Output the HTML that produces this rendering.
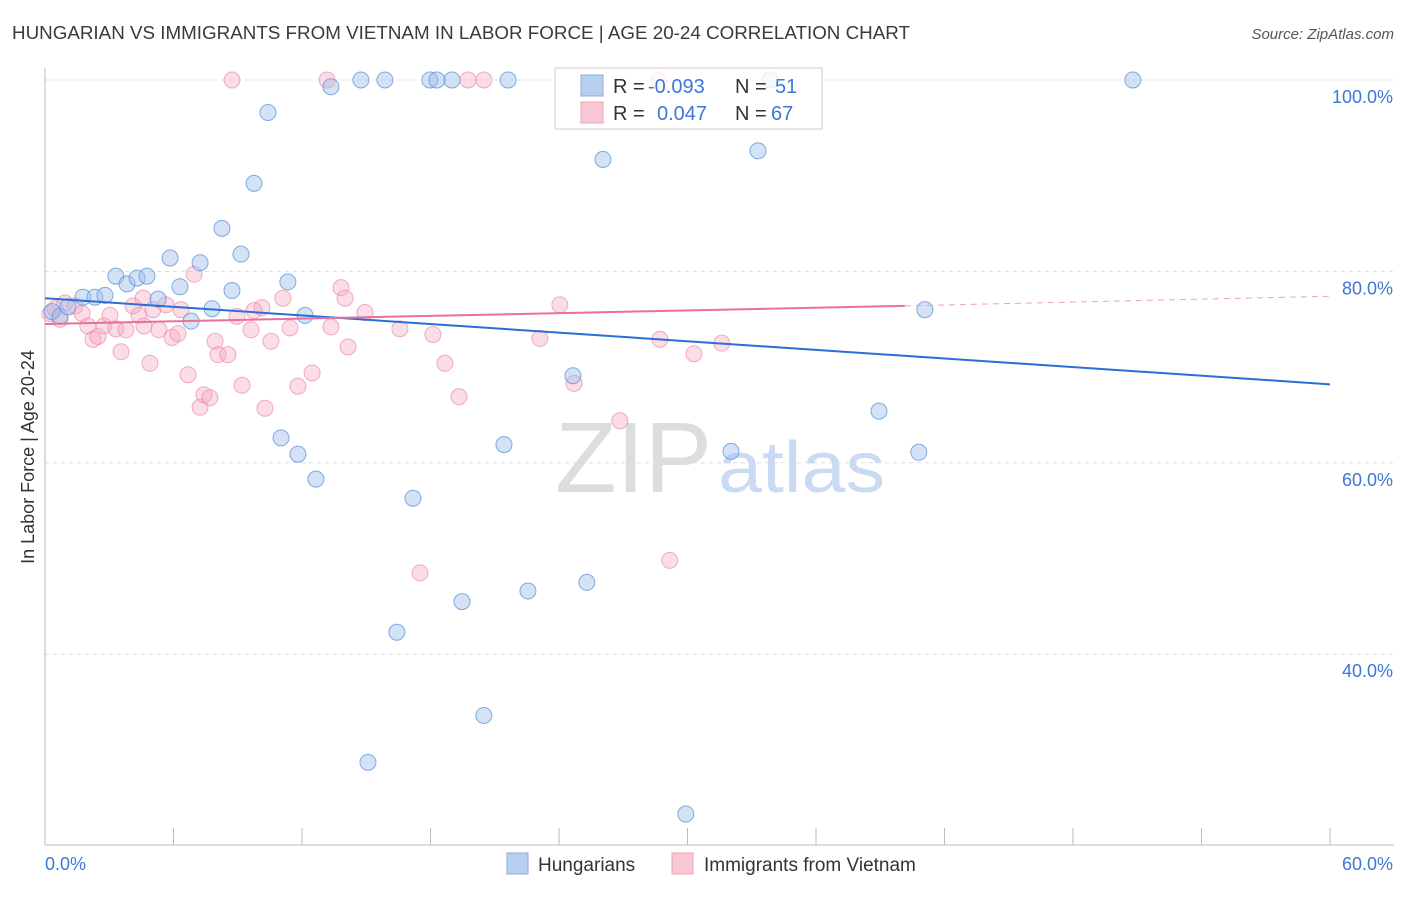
<!DOCTYPE html>
<html><head><meta charset="utf-8"><style>
body{margin:0;background:#fff;font-family:"Liberation Sans",sans-serif}
svg text{font-family:"Liberation Sans",sans-serif}
</style></head><body>
<svg id="c" width="1406" height="892" viewBox="0 0 1406 892" xmlns="http://www.w3.org/2000/svg">
<text x="12" y="39" font-size="18" fill="#3a3a3a" textLength="898" lengthAdjust="spacingAndGlyphs">HUNGARIAN VS IMMIGRANTS FROM VIETNAM IN LABOR FORCE | AGE 20-24 CORRELATION CHART</text>
<text x="1394" y="39" font-size="15" fill="#555" text-anchor="end" font-style="italic">Source: ZipAtlas.com</text>
<g id="grid"></g>
<text x="555" y="492" font-size="100" fill="#ddd" font-family="Liberation Serif" textLength="157" lengthAdjust="spacingAndGlyphs">ZIP</text>
<text x="718" y="492" font-size="72" fill="#c9daf2" textLength="167" lengthAdjust="spacingAndGlyphs">atlas</text>
<g id="marks"></g>
<text transform="translate(34,457) rotate(-90)" font-size="18" fill="#333" text-anchor="middle">In Labor Force | Age 20-24</text>
<g>
<rect x="555" y="68" width="267" height="61" fill="#fff" fill-opacity="0.8" stroke="#ccc"/>
<rect x="581" y="75" width="22" height="21" fill="#b8cff0" stroke="#8aaee0"/>
<rect x="581" y="102" width="22" height="21" fill="#f9c6d4" stroke="#f0a0b8"/>
<text x="613" y="93" font-size="20" fill="#333">R =</text><text x="648" y="93" font-size="20" fill="#3b78d8">-0.093</text>
<text x="735" y="93" font-size="20" fill="#333">N =</text><text x="775" y="93" font-size="20" fill="#3b78d8">51</text>
<text x="613" y="120" font-size="20" fill="#333">R =</text><text x="657" y="120" font-size="20" fill="#3b78d8">0.047</text>
<text x="735" y="120" font-size="20" fill="#333">N =</text><text x="771" y="120" font-size="20" fill="#3b78d8">67</text>
</g>
<g>
<rect x="507" y="853" width="21" height="21" fill="#b8cff0" stroke="#8aaee0"/>
<text x="538" y="871" font-size="19" fill="#333">Hungarians</text>
<rect x="672" y="853" width="21" height="21" fill="#f9c6d4" stroke="#f0a0b8"/>
<text x="704" y="871" font-size="19" fill="#333">Immigrants from Vietnam</text>
</g>
</svg>
<script>
const yTicks=[100,80,60,40];
const yTickLabels=["100.0%","80.0%","60.0%","40.0%"];
const xEndLabels=["0.0%","60.0%"];
const blueX=[0.33,0.7,1.07,1.77,2.33,2.8,3.31,3.83,4.3,4.76,5.28,5.84,6.3,6.82,7.24,7.8,8.26,8.73,9.15,9.76,10.41,11.02,11.34,11.81,12.14,12.65,13.35,14.75,15.08,15.87,16.43,17.18,17.97,18.3,19.0,19.47,20.49,21.43,21.62,22.55,24.65,25.3,26.05,29.92,32.03,33.29,33.85,38.94,40.8,41.08,50.79];
const blueY=[75.8,75.3,76.3,77.3,77.3,77.5,79.5,78.7,79.3,79.5,77.1,81.4,78.4,74.8,80.9,76.1,84.5,78.0,81.8,89.2,96.6,62.6,78.9,60.9,75.4,58.3,99.3,100,28.7,100,42.3,56.3,100,100,100,45.5,33.6,61.9,100,46.6,69.1,47.5,91.7,23.3,61.2,92.6,100,65.4,61.1,76.0,100];
const pinkX=[0.23,0.47,0.93,1.4,1.73,2.0,2.24,2.47,2.75,3.03,3.31,3.55,3.78,4.11,4.39,4.62,4.9,5.04,5.32,5.65,5.93,6.21,6.35,6.68,6.96,7.24,7.42,7.7,7.94,8.08,8.54,8.73,8.96,9.2,9.62,9.76,10.27,10.55,11.11,11.44,11.81,12.47,13.17,13.35,13.82,14.01,14.15,14.94,16.57,17.51,18.11,18.67,19.33,19.75,20.49,23.11,24.04,24.7,26.84,28.66,28.71,29.17,30.3,31.6,0.7,4.58,10.13];
const pinkY=[75.6,76.1,76.7,76.4,75.6,74.3,72.9,73.2,74.3,75.4,74.0,71.6,73.9,76.4,75.4,74.3,70.4,76.0,73.9,76.5,73.1,73.5,76.0,69.2,79.7,65.8,67.1,66.8,72.7,71.3,71.3,100,75.3,68.1,73.9,75.9,65.7,72.7,77.2,74.1,68.0,69.4,100,74.2,78.3,77.2,72.1,75.7,74.0,48.5,73.4,70.4,66.9,100,100,73.0,76.5,68.3,64.4,100,72.9,49.8,71.4,72.5,75.0,77.2,76.2];
const blueTrend=[[0,77.2],[60,68.2]];
const pinkTrend=[[0,74.5],[40.15,76.4],[60,77.4]];
const X=v=>45+v*21.417, Y=v=>80+(100-v)*9.57;
const NS="http://www.w3.org/2000/svg";
const mk=(p,t,a)=>{const e=document.createElementNS(NS,t);for(const k in a)e.setAttribute(k,a[k]);p.appendChild(e);return e;};
const grid=document.getElementById('grid'),marks=document.getElementById('marks');
yTicks.forEach((t,i)=>{
 const l=mk(grid,'line',{x1:45,x2:1394,y1:Y(t),y2:Y(t),stroke:'#ddd','stroke-dasharray':'4,4'});
 
 
 const tx=mk(grid,'text',{x:1393,y:Y(t)+23,'font-size':18,fill:'#3b78d8','text-anchor':'end'});tx.textContent=yTickLabels[i];
 
 
});
const ax=mk(grid,'line',{x1:45,x2:45,y1:68,y2:845,stroke:'#bbb'});


const bx=mk(grid,'line',{x1:45,x2:1394,y1:845,y2:845,stroke:'#bbb'});


for(let i=0;i<=10;i++){const t=mk(grid,'line',{x1:X(i*6),x2:X(i*6),y1:828,y2:845,stroke:'#bbb'});
 
 }
[[0,'start',45],[60,'end',1393]].forEach((d,i)=>{const t=mk(grid,'text',{x:d[2],y:870,'font-size':18,fill:'#3b78d8','text-anchor':d[1]});t.textContent=xEndLabels[i];
 
 });
pinkX.forEach((x,i)=>{const c=mk(marks,'circle',{cx:X(x),cy:Y(pinkY[i]),r:8,fill:'rgba(245,170,195,0.4)',stroke:'rgba(235,140,170,0.7)'});
 
 });
blueX.forEach((x,i)=>{const c=mk(marks,'circle',{cx:X(x),cy:Y(blueY[i]),r:8,fill:'rgba(160,190,235,0.45)',stroke:'rgba(100,150,220,0.8)'});
 
 });
const bl=mk(marks,'line',{x1:X(blueTrend[0][0]),y1:Y(blueTrend[0][1]),x2:X(blueTrend[1][0]),y2:Y(blueTrend[1][1]),stroke:'#2a6fd6','stroke-width':2});


const pl=mk(marks,'line',{x1:X(pinkTrend[0][0]),y1:Y(pinkTrend[0][1]),x2:X(pinkTrend[1][0]),y2:Y(pinkTrend[1][1]),stroke:'#e8709a','stroke-width':2});


const pd=mk(marks,'line',{x1:X(pinkTrend[1][0]),y1:Y(pinkTrend[1][1]),x2:X(pinkTrend[2][0]),y2:Y(pinkTrend[2][1]),stroke:'#eea0b8','stroke-width':1,'stroke-dasharray':'6,5'});


</script>
</body></html>
